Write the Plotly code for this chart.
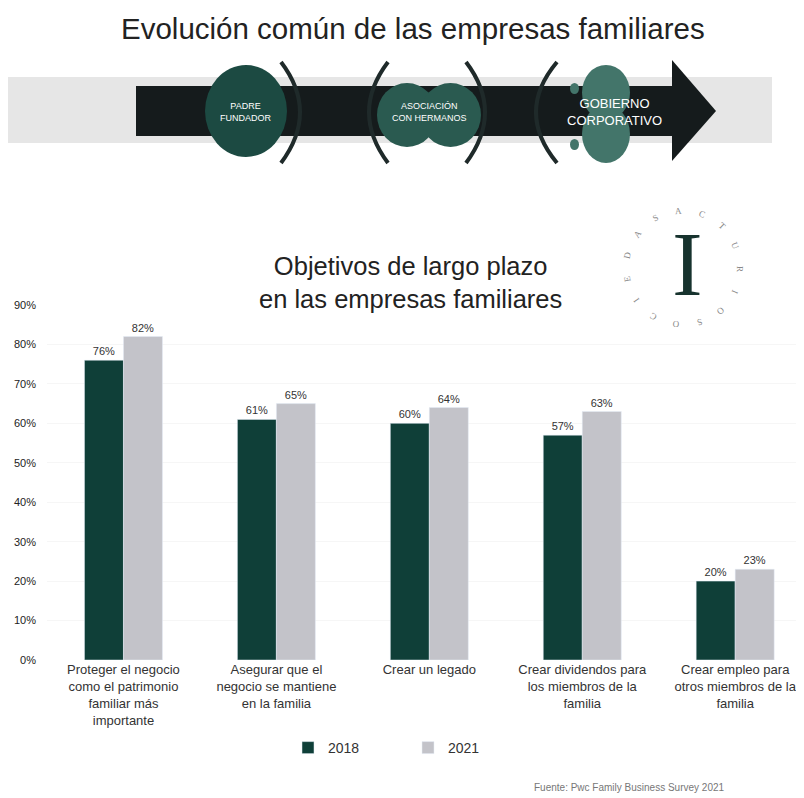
import math
import plotly.graph_objects as go

categories = [
    "Proteger el negocio<br>como el patrimonio<br>familiar más<br>importante",
    "Asegurar que el<br>negocio se mantiene<br>en la familia",
    "Crear un legado",
    "Crear dividendos para<br>los miembros de la<br>familia",
    "Crear empleo para<br>otros miembros de la<br>familia",
]
series_names = ["2018", "2021"]
values_2018 = [76, 61, 60, 57, 20]
values_2021 = [82, 65, 64, 63, 23]
y_tick_values = [0, 10, 20, 30, 40, 50, 60, 70, 80, 90]
y_tick_labels = ["0%", "10%", "20%", "30%", "40%", "50%", "60%", "70%", "80%", "90%"]

# page body has an 8px margin; work in page (reference) pixels and convert
OFF = 8
W, H = 804 - OFF, 798 - OFF
PLOT_LEFT, PLOT_TOP, PLOT_BOTTOM = 47, 305, 660  # in reference pixels
L = PLOT_LEFT - OFF
T = PLOT_TOP - OFF
B = H - (PLOT_BOTTOM - OFF)
R = 0
PW = W - L - R
PH = H - T - B


def px(x):
    return (x - OFF - L) / PW


def py(y):
    return (PLOT_BOTTOM - y) / PH


DARK = "#0f3f38"
GRAY = "#c3c3c9"
FONT = "Arial, Liberation Sans, sans-serif"

fig = go.Figure()
fig.add_trace(go.Bar(
    x=list(range(len(categories))), y=values_2018, name=series_names[0],
    marker_color=DARK, text=[f"{v}%" for v in values_2018], textposition="outside",
    textfont=dict(size=11, color="#333", family=FONT), cliponaxis=False,
))
fig.add_trace(go.Bar(
    x=list(range(len(categories))), y=values_2021, name=series_names[1],
    marker_color=GRAY, text=[f"{v}%" for v in values_2021], textposition="outside",
    textfont=dict(size=11, color="#333", family=FONT), cliponaxis=False,
))

shapes = []
# banner gray band
shapes.append(dict(type="rect", xref="paper", yref="paper", x0=px(8), x1=px(772), y0=py(143), y1=py(77),
                   fillcolor="#e6e6e6", line=dict(width=0), layer="above"))
# arrow body
shapes.append(dict(type="rect", xref="paper", yref="paper", x0=px(136), x1=px(674), y0=py(136), y1=py(86),
                   fillcolor="#151b1c", line=dict(width=0), layer="above"))
# arrow head
shapes.append(dict(type="path", xref="paper", yref="paper",
                   path=f"M {px(672)},{py(60)} L {px(716)},{py(111)} L {px(672)},{py(161)} Z",
                   fillcolor="#151b1c", line=dict(width=0), layer="above"))
# circles
shapes.append(dict(type="circle", xref="paper", yref="paper", x0=px(205), x1=px(287), y0=py(157), y1=py(65),
                   fillcolor="#1c4a42", line=dict(width=0), layer="above"))
shapes.append(dict(type="circle", xref="paper", yref="paper", x0=px(377), x1=px(437), y0=py(147), y1=py(83),
                   fillcolor="#2a5a50", line=dict(width=0), layer="above"))
shapes.append(dict(type="circle", xref="paper", yref="paper", x0=px(420), x1=px(481), y0=py(147), y1=py(83),
                   fillcolor="#2a5a50", line=dict(width=0), layer="above"))
shapes.append(dict(type="circle", xref="paper", yref="paper", x0=px(582), x1=px(630), y0=py(120), y1=py(65),
                   fillcolor="#43756a", line=dict(width=0), layer="above"))
shapes.append(dict(type="circle", xref="paper", yref="paper", x0=px(582), x1=px(630), y0=py(163), y1=py(105),
                   fillcolor="#43756a", line=dict(width=0), layer="above"))
shapes.append(dict(type="circle", xref="paper", yref="paper", x0=px(570), x1=px(579), y0=py(94), y1=py(83),
                   fillcolor="#43756a", line=dict(width=0), layer="above"))
shapes.append(dict(type="circle", xref="paper", yref="paper", x0=px(570), x1=px(579), y0=py(150), y1=py(139),
                   fillcolor="#43756a", line=dict(width=0), layer="above"))
# parentheses
for (xa, xb) in [(281, 300), (388, 369), (466, 485), (557, 536)]:
    shapes.append(dict(type="path", xref="paper", yref="paper",
                       path=f"M {px(xa)},{py(62)} Q {px(xb + (xb - xa))},{py(112)} {px(xa)},{py(163)}",
                       line=dict(color="#1f2a2a", width=4), layer="above"))


def note(text, x, y, size, color="#222", family=FONT, angle=0):
    return dict(text=text, x=px(x), y=py(y), xref="paper", yref="paper", showarrow=False,
                xanchor="center", yanchor="middle", textangle=angle,
                font=dict(size=size, color=color, family=family))


annotations = [
    note("Evolución común de las empresas familiares", 413, 28, 29.5, "#222"),
    note("PADRE<br>FUNDADOR", 246, 112, 9, "white"),
    note("ASOCIACIÓN<br>CON HERMANOS", 429, 112, 9, "white"),
    note("GOBIERNO<br>CORPORATIVO", 614, 112, 13, "white"),
    note("Objetivos de largo plazo<br>en las empresas familiares", 410, 282, 25.5, "#222"),
    note("I", 687, 264, 92, "#17332e", "Liberation Serif, serif"),
    note("Fuente: Pwc Family Business Survey 2021", 629, 787, 10, "#777"),
]
ring_letters = ["A", "C", "T", "U", "R", "I", "O", "S", "O", "C", "I", "E", "D", "A", "S"]
cx, cy, rr = 683, 268, 57
for i, ch in enumerate(ring_letters):
    ang = math.radians(95 - i * (360 / len(ring_letters)))
    annotations.append(note(ch, cx + rr * math.cos(ang), cy - rr * math.sin(ang), 9, "#888",
                            "Liberation Serif, serif", -(math.degrees(ang) - 90)))

fig.update_layout(
    width=W, height=H, margin=dict(l=L, r=R, t=T, b=B, autoexpand=False),
    paper_bgcolor="white", plot_bgcolor="white",
    barmode="group", bargap=0.49, bargroupgap=0.0,
    font=dict(family=FONT, color="#333"),
    shapes=shapes, annotations=annotations,
    xaxis=dict(tickmode="array", tickvals=list(range(len(categories))), ticktext=categories,
               range=[-0.5, 4.45], showgrid=False, zeroline=False, showline=False, ticks="",
               tickfont=dict(size=13, color="#333", family=FONT), tickangle=0, automargin=False),
    yaxis=dict(range=[0, 90], tickmode="array", tickvals=y_tick_values, ticktext=y_tick_labels,
               showgrid=True, gridcolor="#f6f6f6", zeroline=False, showline=False, automargin=False,
               ticklabelstandoff=10,
               tickfont=dict(size=11, color="#222", family=FONT)),
    legend=dict(orientation="h", x=px(288), y=py(748), xanchor="left", yanchor="middle",
                font=dict(size=14, color="#333", family=FONT), entrywidth=75, traceorder="normal"),
    showlegend=True,
)

fig.write_html("out.html")
